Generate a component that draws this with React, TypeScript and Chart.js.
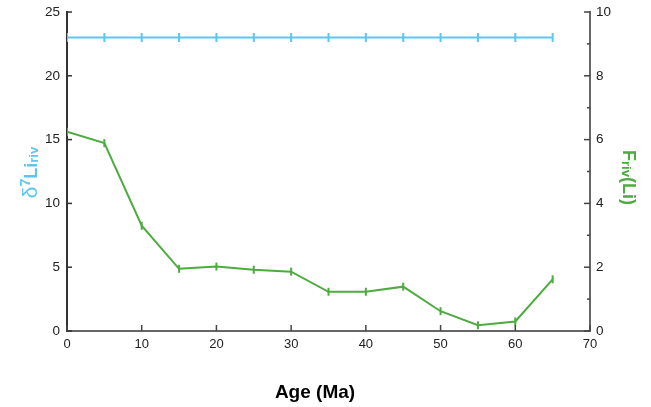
import React, { useEffect, useRef } from "react";
import { Chart, registerables } from "chart.js";

Chart.register(...registerables);

const ages = [0, 5, 10, 15, 20, 25, 30, 35, 40, 45, 50, 55, 60, 65];
const d7Li = [23, 23, 23, 23, 23, 23, 23, 23, 23, 23, 23, 23, 23, 23];
const fRiv = [6.25, 5.89, 3.3, 1.95, 2.02, 1.92, 1.86, 1.23, 1.23, 1.39, 0.62, 0.18, 0.3, 1.62];
const leftTicks = [0, 5, 10, 15, 20, 25];
const rightTicks = [0, 2, 4, 6, 8, 10];
const xTicks = [0, 10, 20, 30, 40, 50, 60, 70];

const BLUE = "#5cc6ef";
const GREEN = "#4dab3f";
const FONT = "'Liberation Sans', Arial, sans-serif";

const ticksPlugin = {
  id: "inwardTicks",
  afterDraw(chart: any) {
    const ctx = chart.ctx;
    const { left, right, bottom } = chart.chartArea;
    const sx = chart.scales.x;
    const sy = chart.scales.y;
    const sy2 = chart.scales.y2;
    ctx.save();
    ctx.lineWidth = 1.5;
    ctx.strokeStyle = "#333";
    leftTicks.forEach((v) => {
      const p = sy.getPixelForValue(v);
      ctx.beginPath();
      ctx.moveTo(left, p);
      ctx.lineTo(left + 5, p);
      ctx.stroke();
    });
    ctx.strokeStyle = "#444";
    xTicks.forEach((v) => {
      const p = sx.getPixelForValue(v);
      ctx.beginPath();
      ctx.moveTo(p, bottom);
      ctx.lineTo(p, bottom - 6);
      ctx.stroke();
    });
    for (let v = 0; v <= 10; v++) {
      const p = sy2.getPixelForValue(v);
      const len = v % 2 === 0 ? 6 : 3;
      ctx.beginPath();
      ctx.moveTo(right, p);
      ctx.lineTo(right - len, p);
      ctx.stroke();
    }
    ctx.restore();

    // Axis titles
    const drawSegs = (segs: any[], cx: number, cy: number, rot: number, color: string, base: number) => {
      ctx.save();
      ctx.translate(cx, cy);
      ctx.rotate(rot);
      ctx.fillStyle = color;
      ctx.textBaseline = "alphabetic";
      ctx.textAlign = "left";
      let total = 0;
      segs.forEach((s) => {
        ctx.font = s.font;
        s.w = ctx.measureText(s.text).width;
        total += s.w;
      });
      let x = -total / 2;
      segs.forEach((s) => {
        ctx.font = s.font;
        ctx.fillText(s.text, x, base + (s.dy || 0));
        x += s.w;
      });
      ctx.restore();
    };
    drawSegs(
      [
        { text: "δ", font: `21px ${FONT}` },
        { text: "7", font: `bold 14px ${FONT}`, dy: -7 },
        { text: "Li", font: `bold 18px ${FONT}` },
        { text: "riv", font: `bold 13px ${FONT}`, dy: 1 },
      ],
      30,
      172.5,
      -Math.PI / 2,
      BLUE,
      7
    );
    drawSegs(
      [
        { text: "F", font: `bold 18px ${FONT}` },
        { text: "riv", font: `bold 13px ${FONT}`, dy: 1 },
        { text: "(Li)", font: `bold 18px ${FONT}` },
      ],
      629,
      177.5,
      Math.PI / 2,
      GREEN,
      6
    );
    ctx.save();
    ctx.fillStyle = "#000";
    ctx.font = `bold 19px ${FONT}`;
    ctx.textAlign = "center";
    ctx.textBaseline = "middle";
    ctx.fillText("Age (Ma)", 315, 393);
    ctx.restore();
  },
};

export default function App() {
  const ref = useRef<HTMLCanvasElement>(null);
  useEffect(() => {
    if (!ref.current) return;
    const chart = new Chart(ref.current, {
      type: "line",
      data: {
        datasets: [
          {
            label: "d7Li",
            data: ages.map((a, i) => ({ x: a, y: d7Li[i] })),
            borderColor: BLUE,
            backgroundColor: BLUE,
            borderWidth: 2,
            pointStyle: "line",
            rotation: 90,
            pointRadius: 4.5,
            pointBorderWidth: 2,
            pointBorderColor: BLUE,
            yAxisID: "y",
          },
          {
            label: "Friv",
            data: ages.map((a, i) => ({ x: a, y: fRiv[i] })),
            borderColor: GREEN,
            backgroundColor: GREEN,
            borderWidth: 2,
            pointStyle: "line",
            rotation: 90,
            pointRadius: 4,
            pointBorderWidth: 2,
            pointBorderColor: GREEN,
            yAxisID: "y2",
          },
        ],
      },
      options: {
        animation: false,
        responsive: false,
        layout: { padding: { top: 12, left: 0, right: 0, bottom: 0 } },
        plugins: { legend: { display: false }, tooltip: { enabled: false } },
        scales: {
          x: {
            type: "linear",
            min: 0,
            max: 70,
            afterBuildTicks: (s: any) => {
              s.ticks = xTicks.map((v) => ({ value: v }));
            },
            afterFit: (s: any) => {
              s.height = 76;
              s.paddingLeft = 0;
              s.paddingRight = 0;
            },
            grid: { drawOnChartArea: false, drawTicks: false },
            border: { display: true, color: "#666", width: 2 },
            ticks: { color: "#222", font: { family: FONT, size: 13 }, padding: 6 },
          },
          y: {
            position: "left",
            min: 0,
            max: 25,
            afterBuildTicks: (s: any) => {
              s.ticks = leftTicks.map((v) => ({ value: v }));
            },
            afterFit: (s: any) => {
              s.width = 67;
              s.paddingTop = 0;
              s.paddingBottom = 0;
            },
            grid: { drawOnChartArea: false, drawTicks: false },
            border: { display: true, color: "#333", width: 2 },
            ticks: { color: "#222", font: { family: FONT, size: 13.5 }, padding: 7 },
          },
          y2: {
            position: "right",
            min: 0,
            max: 10,
            afterBuildTicks: (s: any) => {
              s.ticks = rightTicks.map((v) => ({ value: v }));
            },
            afterFit: (s: any) => {
              s.width = 61;
              s.paddingTop = 0;
              s.paddingBottom = 0;
            },
            grid: { drawOnChartArea: false, drawTicks: false },
            border: { display: true, color: "#666", width: 2 },
            ticks: { color: "#222", font: { family: FONT, size: 13.5 }, padding: 6 },
          },
        },
      },
      plugins: [ticksPlugin],
    } as any);
    return () => chart.destroy();
  }, []);
  return (
    <div style={{ position: "fixed", left: 0, top: 0, width: 651, height: 407, background: "#fff" }}>
      <canvas ref={ref} width={651} height={407} style={{ width: 651, height: 407 }} />
    </div>
  );
}
